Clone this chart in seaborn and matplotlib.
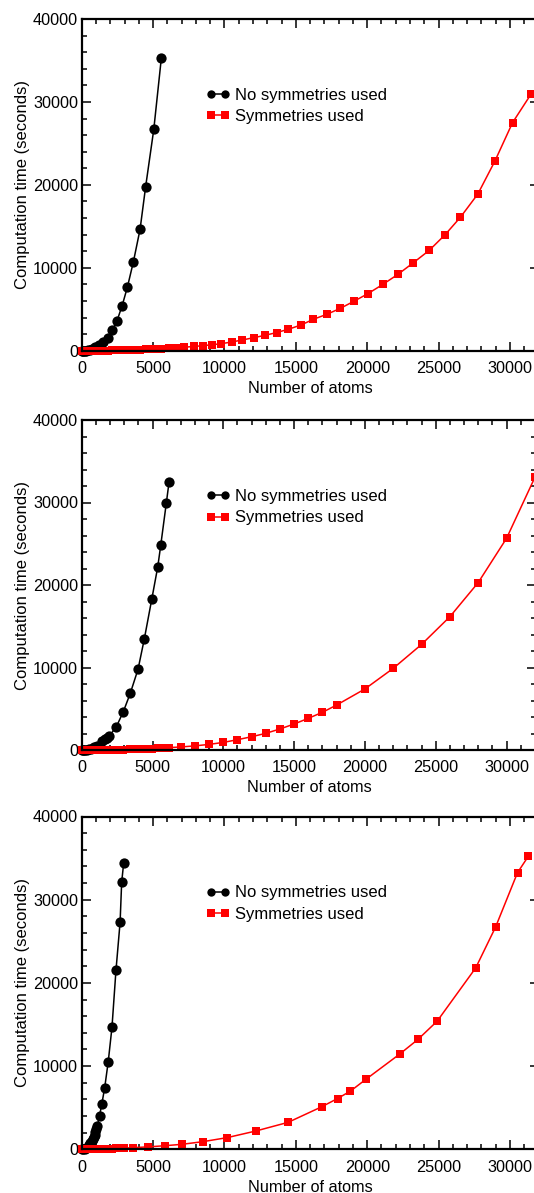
import matplotlib
matplotlib.use("Agg")
import matplotlib.pyplot as plt
from matplotlib.ticker import MultipleLocator
import seaborn as sns

# ---- data: computation time (s) versus number of atoms, three test systems ----
# system A
a_nosym_atoms = [20, 60, 120, 200, 300, 420, 570, 750, 950, 1200, 1470, 1820, 2150,
                 2480, 2830, 3200, 3620, 4090, 4480, 5050, 5580]
a_nosym_time = [0, 2, 6, 15, 35, 70, 140, 240, 400, 650, 1050, 1530, 2450,
                3650, 5420, 7670, 10720, 14660, 19800, 26700, 35300]
a_sym_atoms = [20, 60, 120, 200, 300, 420, 570, 750, 950, 1200, 1470, 1820, 2150,
               2480, 2830, 3200, 3620, 4090, 4480, 5050, 5580, 6150, 6650, 7150,
               7850, 8500, 9130, 9780, 10510, 11230, 12050, 12850, 13660, 14480,
               15350, 16230, 17170, 18100, 19100, 20060, 21090, 22140, 23220,
               24340, 25460, 26530, 27750, 28940, 30180, 31460]
a_sym_time = [0, 0, 0, 1, 1, 2, 4, 6, 9, 14, 20, 28, 38,
              50, 65, 85, 110, 140, 170, 210, 260, 320, 380, 430,
              520, 620, 730, 860, 1060, 1300, 1580, 1870, 2200, 2600,
              3100, 3800, 4400, 5100, 6000, 6900, 8000, 9200, 10600,
              12100, 14000, 16100, 18900, 22850, 27500, 30900]

# system B
b_nosym_atoms = [20, 60, 130, 220, 350, 500, 680, 880, 1100, 1440, 1670, 1800, 1930,
                 2450, 2940, 3430, 3980, 4420, 4950, 5370, 5580, 5980, 6170]
b_nosym_time = [0, 2, 6, 15, 40, 90, 180, 320, 520, 1090, 1350, 1500, 1650,
                2830, 4650, 6870, 9800, 13450, 18300, 22200, 24800, 30000, 32500]
b_sym_atoms = [20, 60, 130, 220, 350, 500, 680, 880, 1100, 1440, 1670, 1800, 1930,
               2450, 2940, 3430, 3980, 4420, 4950, 5370, 5580, 5980, 6170,
               7000, 8000, 9000, 10000, 11000, 12000, 13000, 14000, 15000, 16000,
               17000, 18000, 20000, 22000, 24000, 26000, 28000, 30000, 32000]
b_sym_time = [0, 0, 0, 0, 1, 2, 3, 5, 8, 13, 17, 20, 24,
              38, 55, 75, 105, 135, 175, 210, 230, 270, 290,
              370, 500, 680, 920, 1250, 1610, 2020, 2550, 3150, 3840,
              4570, 5450, 7400, 9900, 12800, 16160, 20300, 25660, 33050]

# system C
c_nosym_atoms = [20, 100, 200, 300, 420, 520, 610, 700, 770, 840, 900, 960, 1020,
                 1090, 1250, 1410, 1610, 1860, 2120, 2400, 2690, 2800, 2940]
c_nosym_time = [0, 10, 40, 120, 300, 500, 760, 1000, 1250, 1500, 1750, 2050, 2400,
                2760, 4040, 5440, 7400, 10550, 14650, 21500, 27300, 32100, 34400]
c_sym_atoms = [20, 100, 200, 300, 420, 520, 610, 700, 770, 840, 900, 960, 1020,
               1090, 1250, 1410, 1610, 1860, 2120, 2400, 2690, 2800, 2940,
               3600, 4650, 5820, 7030, 8500, 10180, 12200, 14460, 16800, 17920,
               18830, 19900, 22280, 23550, 24900, 27600, 28990, 30530, 31280]
c_sym_time = [0, 0, 1, 2, 4, 6, 8, 10, 12, 15, 17, 20, 22,
              25, 32, 40, 50, 65, 80, 100, 120, 130, 140,
              200, 290, 430, 600, 920, 1400, 2200, 3240, 5100, 6100,
              7000, 8400, 11450, 13200, 15400, 21800, 26700, 33250, 35200]

labels = ["No symmetries used", "Symmetries used"]
x_label = "Number of atoms"
y_label = "Computation time (seconds)"

panels = [
    (a_nosym_atoms, a_nosym_time, a_sym_atoms, a_sym_time),
    (b_nosym_atoms, b_nosym_time, b_sym_atoms, b_sym_time),
    (c_nosym_atoms, c_nosym_time, c_sym_atoms, c_sym_time),
]

# ---- styling ----
sns.set_theme(style="ticks")
plt.rcParams["font.family"] = ["Liberation Sans", "DejaVu Sans"]
plt.rcParams.update({
    "axes.edgecolor": "black",
    "axes.labelcolor": "black",
    "xtick.color": "black",
    "ytick.color": "black",
    "text.color": "black",
    "axes.linewidth": 1.6,
})

W, H = 534, 1193
fig = plt.figure(figsize=(W / 100, H / 100), dpi=100)

# axes boxes in pixels: (left, right, top, bottom), x-limit
boxes = [
    ((81.7, 538.5, 19.0, 350.8), 32000),
    ((81.7, 536.3, 420.0, 750.0), 32100),
    ((81.7, 538.5, 816.5, 1149.3), 32000),
]

BLACK = "#000000"
RED = "#ff0000"

for ((l, r, t, b), xmax), (bx, by, rx, ry) in zip(boxes, panels):
    ax = fig.add_axes([l / W, 1 - b / H, (r - l) / W, (b - t) / H])

    sns.lineplot(x=bx, y=by, ax=ax, color=BLACK, linewidth=1.1, marker="o",
                 markersize=7.4, markeredgewidth=0, markeredgecolor=BLACK,
                 estimator=None, sort=False, label=labels[0], clip_on=False,
                 zorder=2)
    sns.lineplot(x=rx, y=ry, ax=ax, color=RED, linewidth=1.1, marker="s",
                 markersize=5.8, markeredgewidth=0, markeredgecolor=RED,
                 estimator=None, sort=False, label=labels[1], clip_on=False,
                 zorder=2.1)

    ax.set_xlim(0, xmax)
    ax.set_ylim(0, 40000)
    ax.xaxis.set_major_locator(MultipleLocator(5000))
    ax.xaxis.set_minor_locator(MultipleLocator(1000))
    ax.yaxis.set_major_locator(MultipleLocator(10000))
    ax.yaxis.set_minor_locator(MultipleLocator(2000))
    ax.tick_params(which="both", direction="in", top=True, right=True,
                   width=1.1, labelsize=11.7)
    ax.tick_params(which="major", length=6.5)
    ax.tick_params(which="minor", length=3.5)
    ax.tick_params(axis="x", which="major", pad=7.5)
    ax.tick_params(axis="y", which="major", pad=2.5)
    for s in ax.spines.values():
        s.set_zorder(3)

    ax.set_xlabel(x_label, fontsize=11.7, labelpad=3.5)
    ax.set_ylabel(y_label, fontsize=12, labelpad=2.0)

    # legend sits a fixed distance below the top of each panel
    leg_left = 206.0 / W
    leg_top = 1 - (t + 69.0) / H
    leg = ax.legend(loc="upper left", bbox_to_anchor=(leg_left, leg_top),
                    bbox_transform=fig.transFigure, frameon=False, numpoints=2,
                    handlelength=1.45, handletextpad=0.3, labelspacing=0.38,
                    borderpad=0, borderaxespad=0, fontsize=12)
    lines = leg.get_lines()
    lines[0].set_markersize(6.0)
    lines[1].set_markersize(5.8)

fig.savefig("out.png", dpi=100)
